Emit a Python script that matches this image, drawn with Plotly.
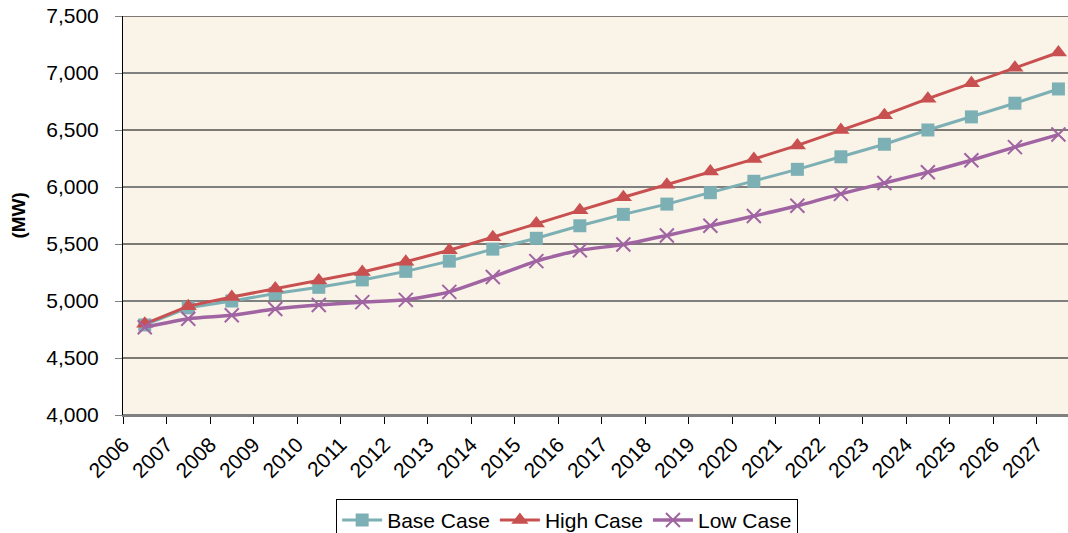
import plotly.graph_objects as go

years = [str(y) for y in range(2006, 2028)]

base_case = [4790, 4940, 5000, 5065, 5120, 5185, 5260, 5350, 5455, 5550, 5660,
             5760, 5850, 5950, 6050, 6155, 6265, 6375, 6500, 6615, 6735, 6860]
high_case = [4800, 4955, 5035, 5110, 5180, 5255, 5345, 5445, 5560, 5680, 5795,
             5910, 6020, 6135, 6245, 6365, 6500, 6630, 6775, 6910, 7045, 7180]
low_case = [4770, 4845, 4875, 4930, 4965, 4990, 5010, 5080, 5210, 5350, 5445,
            5495, 5575, 5660, 5745, 5835, 5940, 6035, 6130, 6235, 6350, 6460]

y_ticks = list(range(4000, 7501, 500))

FONT = "Liberation Sans, Arial, sans-serif"
TEAL = "#7DB0B4"
RED = "#C85050"
PURPLE = "#A064A2"

# points sit in the middle of each year slot, labels sit on the slot boundary
x_pos = [i + 0.5 for i in range(len(years))]

fig = go.Figure()
fig.add_trace(go.Scatter(
    x=x_pos, y=base_case, name="Base Case", mode="lines+markers",
    line=dict(color=TEAL, width=3),
    marker=dict(symbol="square", size=13, color=TEAL),
))
fig.add_trace(go.Scatter(
    x=x_pos, y=high_case, name="High Case", mode="lines+markers",
    line=dict(color=RED, width=3),
    marker=dict(symbol="triangle-up", size=15, color=RED),
))
fig.add_trace(go.Scatter(
    x=x_pos, y=low_case, name="Low Case", mode="lines+markers",
    line=dict(color=PURPLE, width=3.5, shape="spline", smoothing=0.6),
    marker=dict(symbol="x-thin-open", size=14, color=PURPLE,
                line=dict(color=PURPLE, width=2)),
))

# horizontal gridlines: thousands in grey, half-thousands in black
for v in y_ticks:
    major = v % 1000 == 0
    fig.add_shape(type="line", xref="paper", x0=0, x1=1, yref="y", y0=v, y1=v,
                  line=dict(color="#7F7F7F" if major else "#000000",
                            width=2 if major else 1),
                  layer="between")

fig.add_annotation(text="<b>(MW)</b>", xref="paper", yref="paper",
                   x=-0.111, y=0.5, xanchor="center", yanchor="middle",
                   textangle=-90, showarrow=False,
                   font=dict(family=FONT, size=19, color="black"))

fig.update_xaxes(
    range=[0, 21.72], automargin=False,
    tickvals=list(range(len(years))), ticktext=years,
    tickangle=-45, ticks="outside", ticklen=7, tickcolor="black",
    showgrid=False, zeroline=False,
    showline=True, linecolor="#7F7F7F", linewidth=2,
    tickfont=dict(family=FONT, size=21, color="black"),
)
fig.update_yaxes(
    range=[4000, 7500], tickvals=y_ticks, tickformat=",", automargin=False,
    ticks="outside", ticklen=7, tickcolor="#7F7F7F", ticklabelstandoff=12,
    showgrid=False, zeroline=False,
    showline=True, linecolor="black", linewidth=1,
    tickfont=dict(family=FONT, size=21, color="black"),
)

fig.update_layout(
    width=1068, height=533,
    margin=dict(l=123, r=0, t=16, b=118, autoexpand=False),
    paper_bgcolor="white", plot_bgcolor="#FAF3E8",
    font=dict(family=FONT, size=21, color="black"),
    showlegend=True,
    legend=dict(orientation="h", x=0.47, xanchor="center", y=-0.21, yanchor="top",
                bordercolor="black", borderwidth=1, bgcolor="white",
                font=dict(family=FONT, size=21), itemwidth=40,
                tracegroupgap=0),
)

# drop the browser's default page margin so the figure fills the window
fig.write_html("out.html",
               config={"displayModeBar": False},
               post_script="document.body.style.margin='0';"
                           "document.body.style.overflow='hidden';")
